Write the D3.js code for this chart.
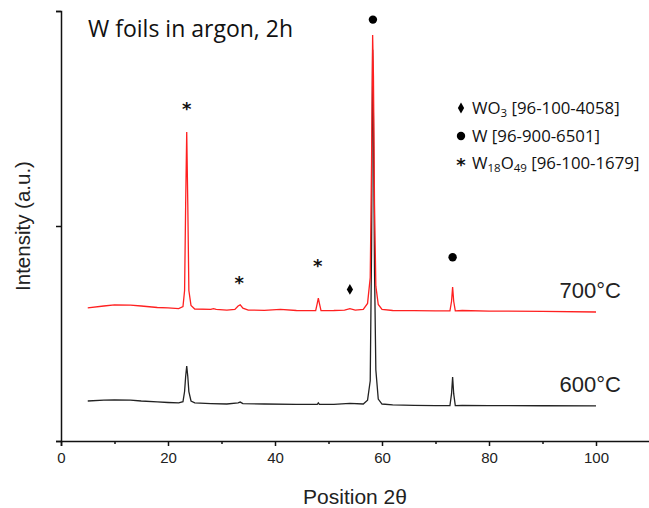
<!DOCTYPE html>
<html><head><meta charset="utf-8">
<script src="https://cdn.jsdelivr.net/npm/d3@7"></script>
<style>body{margin:0;background:#fff}svg{display:block}</style>
</head><body><svg id="c" width="649" height="508"></svg>
<script>
// ---- data ----
const xTicks = [0, 20, 40, 60, 80, 100];
const xMinorTicks = [10, 30, 50, 70, 90];
const yTicks = [0, 1000, 2000];
const seriesNames = ["700°C", "600°C"];
const x700 = [5, 8, 10, 13, 15, 18, 20, 22, 22.8, 23.1, 23.3, 23.5, 23.7, 23.9, 24.3, 25, 28, 28.5, 29, 31, 32.5, 33.1, 33.5, 34, 35, 38, 41, 44, 47.6, 47.9, 48.1, 48.3, 48.6, 51, 53, 54, 55, 56.5, 57.3, 57.8, 58.05, 58.25, 58.4, 58.6, 58.85, 59.3, 60, 62, 66, 70, 72.7, 73.0, 73.2, 73.4, 73.7, 75, 80, 90, 100];
const y700 = [619, 628, 633, 632, 628, 621, 619, 616, 625, 700, 1100, 1437, 1100, 700, 630, 614, 612, 616, 612, 609, 612, 628, 633, 618, 609, 608, 612, 607, 606, 640, 665, 640, 606, 607, 609, 616, 609, 612, 640, 760, 1300, 1888, 1700, 1100, 720, 635, 612, 607, 606, 605, 605, 650, 716, 650, 605, 607, 604, 603, 600];
const x600 = [5, 8, 10, 13, 15, 18, 20, 22, 22.8, 23.1, 23.3, 23.5, 23.7, 23.9, 24.3, 25, 28, 31, 33.1, 33.5, 34, 38, 44, 47.9, 48.1, 48.3, 51, 54, 56.5, 57.3, 57.8, 58.05, 58.25, 58.4, 58.6, 58.85, 59.3, 60, 62, 66, 70, 72.7, 73.0, 73.2, 73.4, 73.7, 75, 80, 90, 100];
const y600 = [186, 190, 191, 190, 186, 182, 179, 177, 183, 230, 300, 349, 300, 230, 186, 177, 174, 172, 177, 181, 174, 172, 170, 170, 177, 170, 170, 175, 172, 190, 280, 900, 1820, 1500, 800, 330, 195, 172, 168, 166, 165, 165, 220, 298, 220, 165, 166, 165, 164, 163];
const markers = [
  {x: 23.5, y: 1555, type: "star"},
  {x: 33.3, y: 745, type: "star"},
  {x: 48.0, y: 825, type: "star"},
  {x: 54.0, y: 705, type: "diamond"},
  {x: 58.3, y: 1960, type: "circle"},
  {x: 73.2, y: 855, type: "circle"}
];
const legendItems = [
  {type: "diamond", name: "WO", sub: "3", rest: " [96-100-4058]"},
  {type: "circle", name: "W", sub: "", rest: " [96-900-6501]"},
  {type: "star", name: "W", sub: "18", mid: "O", sub2: "49", rest: " [96-100-1679]"}
];

// ---- chart ----
const svg = d3.select("#c");
const W = 649, H = 508;
const m = {left: 61, right: 0, top: 11, bottom: 67};
const x = d3.scaleLinear().domain([0, 110]).range([m.left, m.left + 110 * 5.35]);
const y = d3.scaleLinear().domain([0, 2000]).range([H - m.bottom, m.top]);
const g = svg.append("g");

const line = d3.line().x(d => x(d[0])).y(d => y(d[1]));
g.append("path").datum(d3.zip(x600, y600)).attr("d", line)
  .attr("fill", "none").attr("stroke", "#222").attr("stroke-width", 1.3);
g.append("path").datum(d3.zip(x700, y700)).attr("d", line)
  .attr("fill", "none").attr("stroke", "#ff2020").attr("stroke-width", 1.3);

// axes
const xa = g.append("g").attr("transform", `translate(0,${y(0)})`)
  .call(d3.axisBottom(x).tickValues(xTicks).tickSize(5).tickPadding(6));
xa.select(".domain").attr("stroke", "#111").attr("stroke-width", 1.5);
xa.selectAll(".tick line").attr("stroke", "#111").attr("stroke-width", 1.5);
xa.selectAll("text").attr("font-family", "Liberation Sans, Arial, sans-serif").attr("font-size", 15).attr("fill", "#222");
const xm = g.append("g").attr("transform", `translate(0,${y(0)})`)
  .call(d3.axisBottom(x).tickValues(xMinorTicks).tickSize(3).tickFormat(""));
xm.select(".domain").remove();
xm.selectAll(".tick line").attr("stroke", "#111").attr("stroke-width", 1.5);

const ya = g.append("g").attr("transform", `translate(${m.left},0)`)
  .call(d3.axisLeft(y).tickValues(yTicks).tickSize(5).tickFormat(""));
ya.select(".domain").attr("stroke", "#111").attr("stroke-width", 1.5);
ya.selectAll(".tick line").attr("stroke", "#111").attr("stroke-width", 1.5);

// axis titles
svg.append("text").attr("x", 355).attr("y", 504).attr("text-anchor", "middle")
  .attr("font-family", "Liberation Sans, Arial, sans-serif").attr("font-size", 21).attr("fill", "#222")
  .text("Position 2θ");
svg.append("text").attr("transform", `translate(30,226) rotate(-90)`).attr("text-anchor", "middle")
  .attr("font-family", "Liberation Sans, Arial, sans-serif").attr("font-size", 20.5).attr("fill", "#222")
  .text("Intensity (a.u.)");

// title
svg.append("text").attr("x", 88).attr("y", 37)
  .attr("font-family", "Open Sans, Noto Sans, sans-serif").attr("font-size", 23).attr("fill", "#111")
  .text("W foils in argon, 2h");

// series labels
const labY = [298, 392];
seriesNames.forEach((s, i) => {
  svg.append("text").attr("x", 621).attr("y", labY[i]).attr("text-anchor", "end")
    .attr("font-family", "Liberation Sans, Arial, sans-serif").attr("font-size", 22).attr("fill", "#222")
    .text(s);
});

// markers
function drawMarker(sel, type, cx, cy) {
  if (type === "circle") {
    sel.append("circle").attr("cx", cx).attr("cy", cy).attr("r", 4.2).attr("fill", "#000");
  } else if (type === "diamond") {
    sel.append("path").attr("d", d3.symbol(d3.symbolDiamond, 34)()).attr("transform", `translate(${cx},${cy})`).attr("fill", "#000");
  } else {
    sel.append("text").attr("x", cx).attr("y", cy + 8).attr("text-anchor", "middle")
      .attr("font-family", "DejaVu Sans, sans-serif").attr("font-size", 18).attr("font-weight", "bold").attr("fill", "#111").text("*");
  }
}
markers.forEach(d => drawMarker(svg, d.type, x(d.x), y(d.y)));

// legend
const lg = svg.append("g");
const legY = [108, 136, 163];
legendItems.forEach((d, i) => {
  drawMarker(lg, d.type, 461, legY[i]);
  const t = lg.append("text").attr("x", 472).attr("y", legY[i] + 6)
    .attr("font-family", "Open Sans, Noto Sans, sans-serif").attr("font-size", 16.8).attr("fill", "#111");
  t.append("tspan").text(d.name);
  if (d.sub) t.append("tspan").attr("font-size", 11.5).attr("dy", 3).text(d.sub);
  if (d.mid) t.append("tspan").attr("dy", -3).text(d.mid);
  if (d.sub2) t.append("tspan").attr("font-size", 11.5).attr("dy", 3).text(d.sub2);
  t.append("tspan").attr("dy", d.sub ? -3 : 0).text(d.rest);
});
</script></body></html>
